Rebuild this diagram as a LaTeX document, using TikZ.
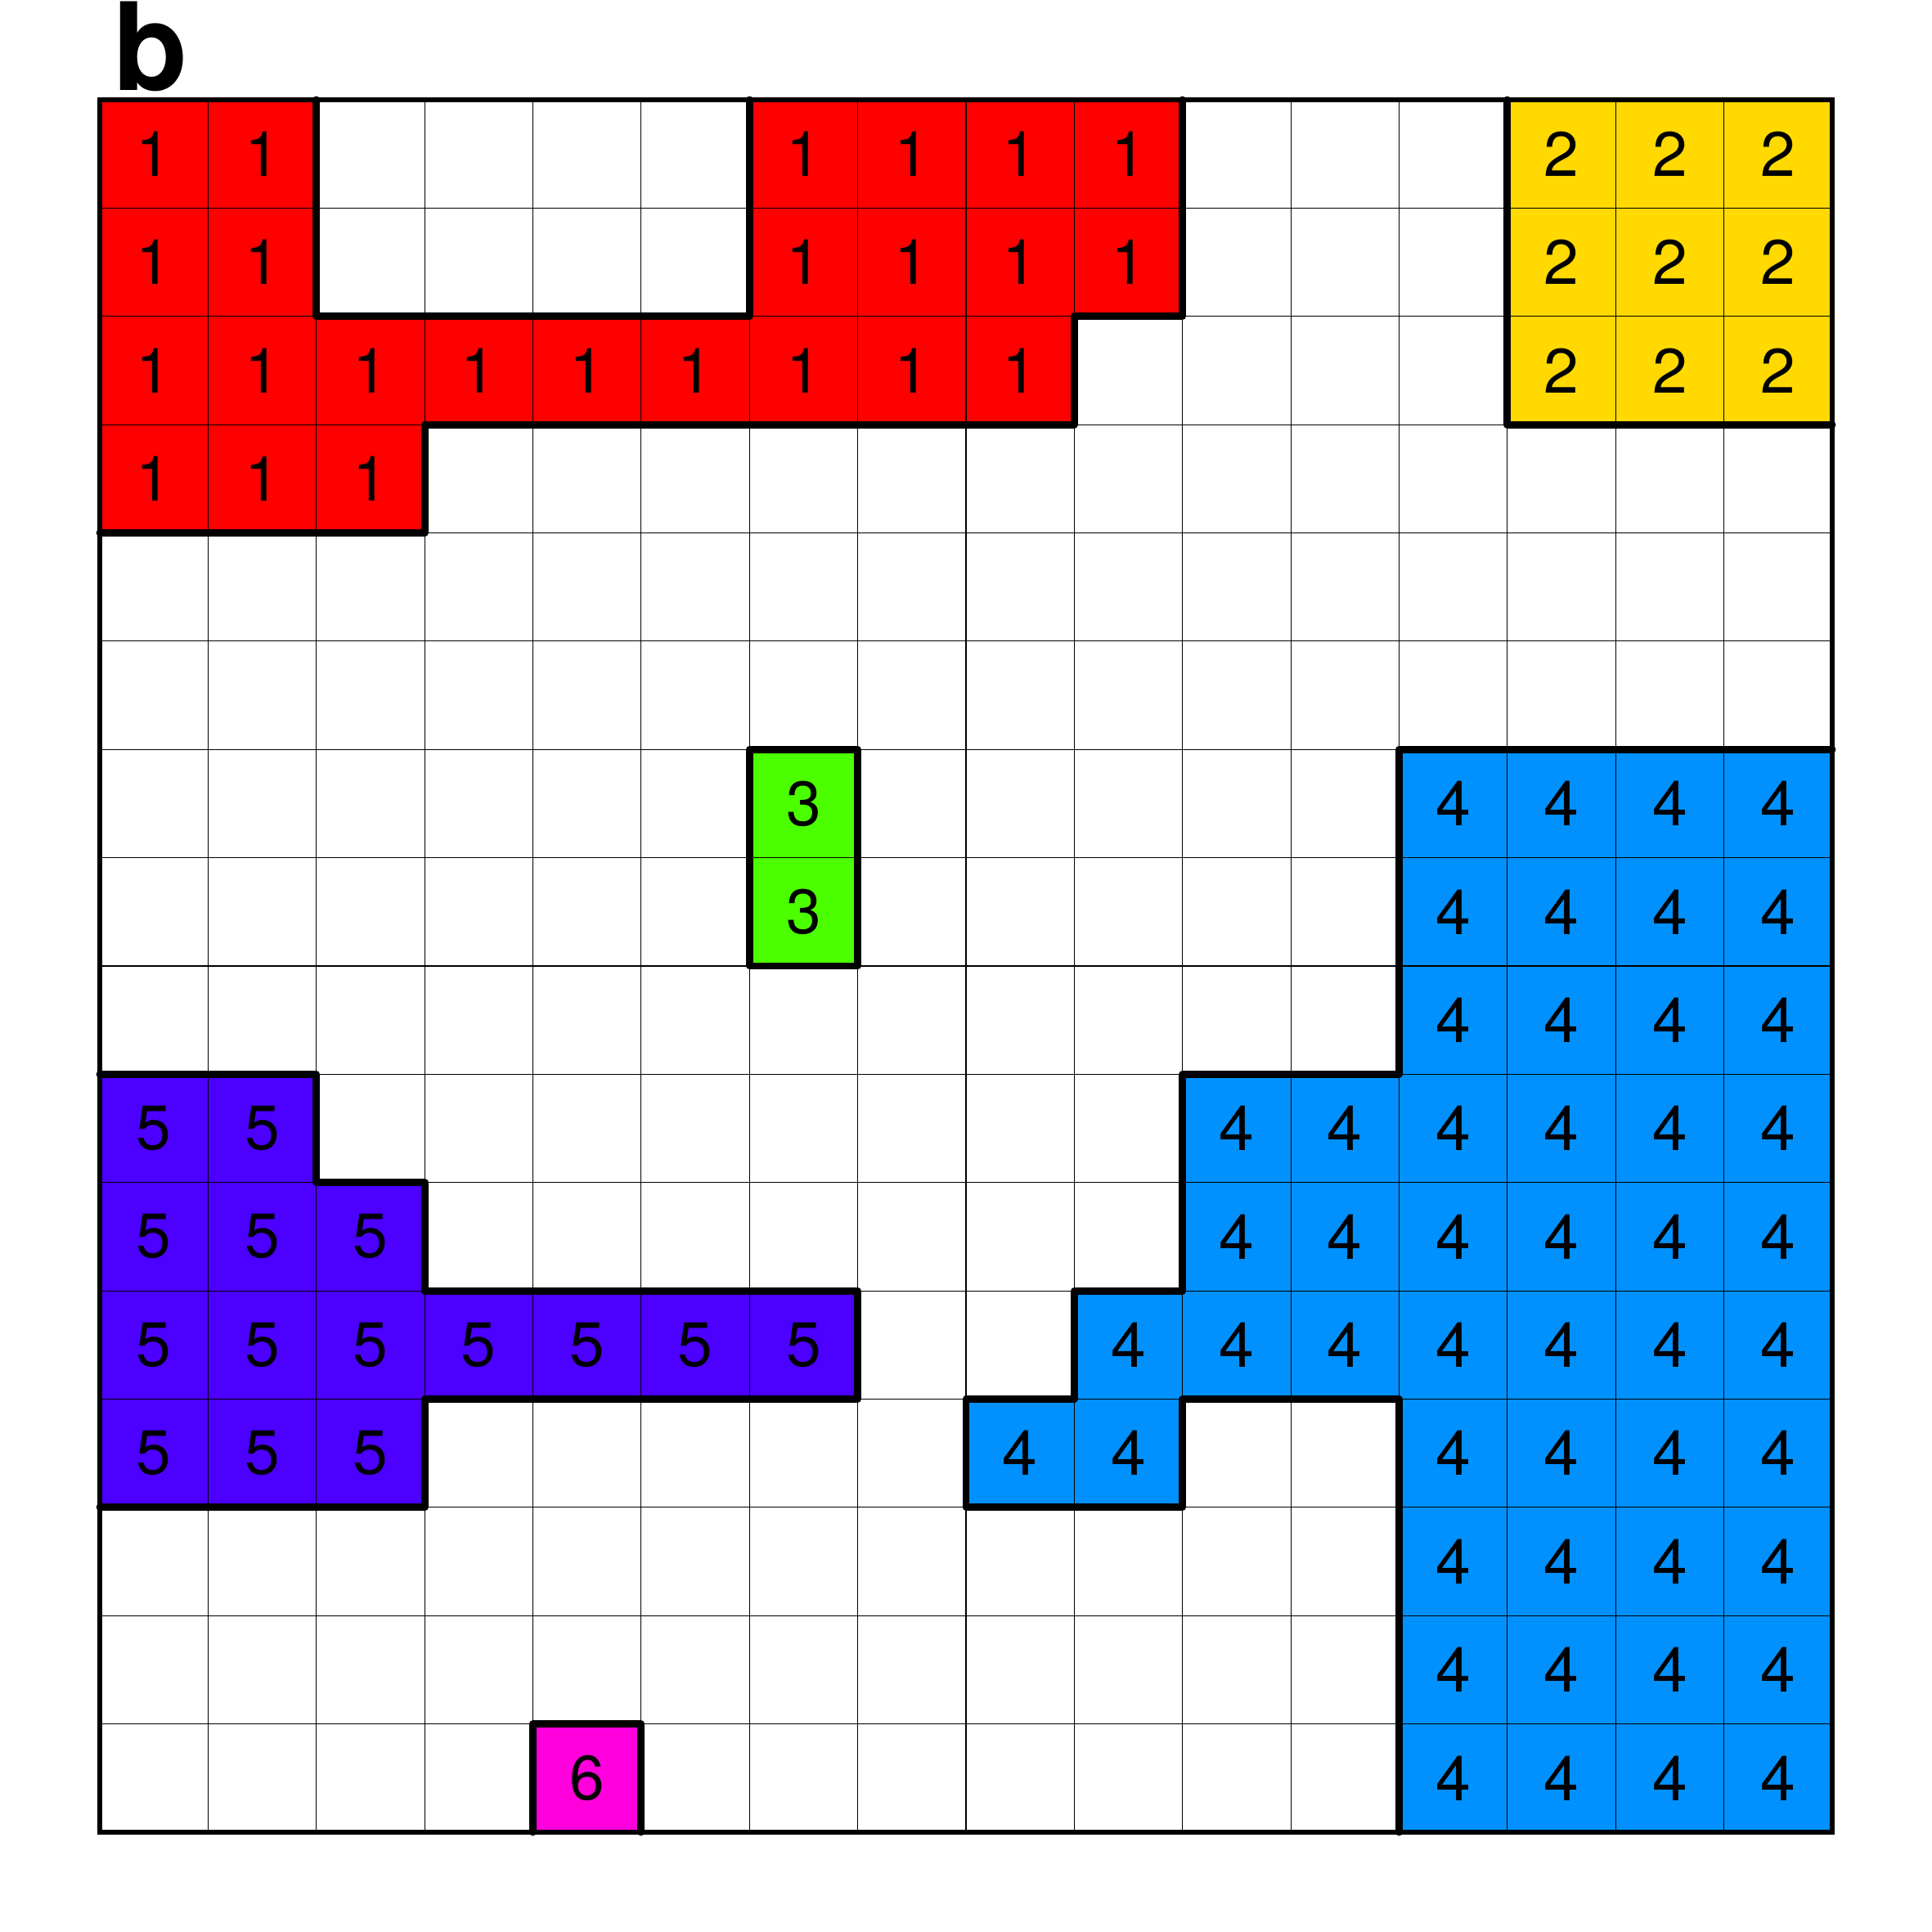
\documentclass[tikz,border=0pt]{standalone}
\usepackage{fontspec}
\setmainfont{TeX Gyre Heros}
\definecolor{reg1}{RGB}{255,0,0}
\definecolor{reg2}{RGB}{255,217,0}
\definecolor{reg3}{RGB}{76,255,0}
\definecolor{reg4}{RGB}{0,145,255}
\definecolor{reg5}{RGB}{76,0,255}
\definecolor{reg6}{RGB}{255,0,221}
\tikzset{
  cellnum/.style={font=\fontsize{16.5}{20}\selectfont,inner sep=0pt},
  regionline/.style={line width=1.9pt,line join=round,line cap=round},
  gridline/.style={line width=0.25pt,black},
}
\begin{document}
\begin{tikzpicture}
  \useasboundingbox (-0.9216,-0.9216) rectangle (16.9216,16.9216);

  %%%%%%%%%% CELLS %%%%%%%%%%
  \foreach \rowvals [count=\r from 0] in {
      {1,1,0,0,0,0,1,1,1,1,0,0,0,2,2,2},
      {1,1,0,0,0,0,1,1,1,1,0,0,0,2,2,2},
      {1,1,1,1,1,1,1,1,1,0,0,0,0,2,2,2},
      {1,1,1,0,0,0,0,0,0,0,0,0,0,0,0,0},
      {0,0,0,0,0,0,0,0,0,0,0,0,0,0,0,0},
      {0,0,0,0,0,0,0,0,0,0,0,0,0,0,0,0},
      {0,0,0,0,0,0,3,0,0,0,0,0,4,4,4,4},
      {0,0,0,0,0,0,3,0,0,0,0,0,4,4,4,4},
      {0,0,0,0,0,0,0,0,0,0,0,0,4,4,4,4},
      {5,5,0,0,0,0,0,0,0,0,4,4,4,4,4,4},
      {5,5,5,0,0,0,0,0,0,0,4,4,4,4,4,4},
      {5,5,5,5,5,5,5,0,0,4,4,4,4,4,4,4},
      {5,5,5,0,0,0,0,0,4,4,0,0,4,4,4,4},
      {0,0,0,0,0,0,0,0,0,0,0,0,4,4,4,4},
      {0,0,0,0,0,0,0,0,0,0,0,0,4,4,4,4},
      {0,0,0,0,6,0,0,0,0,0,0,0,4,4,4,4}} {
    \foreach \v [count=\c from 0] in \rowvals {
      \ifnum\v>0
        \fill[reg\v] (\c,15-\r) rectangle ++(1,1);
        \node[cellnum] (cell-\r-\c) at (\c+0.5,15.5-\r) {\v};
      \fi
    }
  }

  % thin grid
  \draw[gridline] (0,0) grid (16,16);

  %%%%%%%%%% REGION BORDERS %%%%%%%%%%
  % region 1
  \draw[regionline] (2,16) -- (2,14) -- (6,14) -- (6,16);
  \draw[regionline] (10,16) -- (10,14) -- (9,14) -- (9,13) -- (3,13) -- (3,12) -- (0,12);
  % region 2
  \draw[regionline] (13,16) -- (13,13) -- (16,13);
  % region 3
  \draw[regionline] (6,10) rectangle (7,8);
  % region 4
  \draw[regionline] (16,10) -- (12,10) -- (12,7) -- (10,7) -- (10,5) -- (9,5) -- (9,4) -- (8,4)
    -- (8,3) -- (10,3) -- (10,4) -- (12,4) -- (12,0);
  % region 5
  \draw[regionline] (0,7) -- (2,7) -- (2,6) -- (3,6) -- (3,5) -- (7,5) -- (7,4) -- (3,4) -- (3,3) -- (0,3);
  % region 6
  \draw[regionline] (4,0) -- (4,1) -- (5,1) -- (5,0);

  % outer frame
  \draw[line width=1.1pt] (0,0) rectangle (16,16);

  \node[anchor=base west,inner sep=0pt,font=\fontsize{32}{36}\selectfont\bfseries] (panel) at (0.12,16.09) {b};
\end{tikzpicture}
\end{document}
